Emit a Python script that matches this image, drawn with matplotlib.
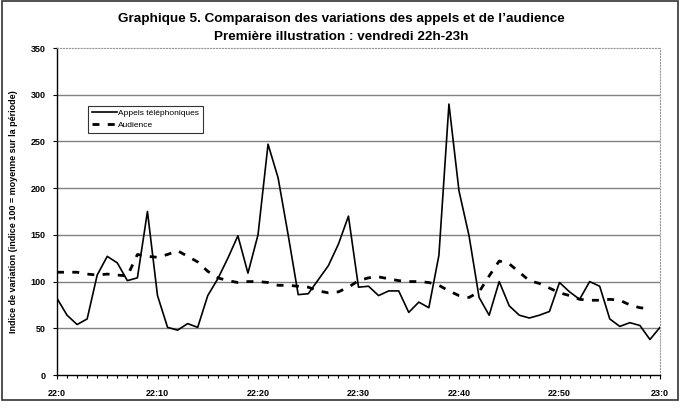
import matplotlib
matplotlib.use("Agg")
import matplotlib.pyplot as plt
import numpy as np
from matplotlib.patches import Rectangle

plt.rcParams['font.family'] = ['Liberation Sans', 'DejaVu Sans']

# minutes after 22:00
minutes = list(range(61))

appels = [82, 64, 54, 60, 107, 127, 120, 101, 104, 175,
          85, 51, 48, 55, 51, 85, 103, 125, 149, 109,
          150, 247, 211, 150, 86, 87, 102, 117, 140, 170,
          94, 95, 85, 90, 90, 67, 78, 72, 128, 290,
          197, 149, 83, 64, 100, 74, 64, 61, 64, 68,
          99, 89, 81, 100, 95, 60, 52, 56, 53, 38, 51]

audience = [110, 110, 110, 108, 107, 108, 107, 106, 129, 127,
            126, 129, 133, 127, 121, 111, 104, 101, 99, 100,
            100, 99, 96, 96, 95, 94, 90, 88, 89, 94,
            101, 104, 105, 103, 101, 100, 100, 99, 96, 90,
            85, 83, 89, 106, 122, 119, 110, 101, 98, 93,
            88, 85, 81, 80, 80, 81, 80, 75, 72, 71, np.nan]

tick_pos = [0, 10, 20, 30, 40, 50, 60]
tick_labels = ['22:0', '22:10', '22:20', '22:30', '22:40', '22:50', '23:0']

fig = plt.figure(figsize=(6.83, 4.11), dpi=100)
ax = fig.add_axes([57/683, 36/411, 603/683, 327/411])

for yv in range(50, 301, 50):
    ax.axhline(yv, color='#808080', lw=1.0, zorder=1)

ax.plot(minutes, appels, color='black', lw=1.2, label='Appels téléphoniques', zorder=3)
ax.plot(minutes, audience, color='black', lw=2.0, ls=(0, (2.5, 3)),
        label='Audience', zorder=3)

ax.set_xlim(0, 60)
ax.set_ylim(0, 350)
ax.set_yticks(range(0, 351, 50))
ax.set_xticks(tick_pos)
ax.set_xticklabels(tick_labels)
ax.set_xticks(minutes, minor=True)
ax.tick_params(axis='both', labelsize=6.5, length=3, width=0.8, pad=5)
ax.tick_params(axis='x', which='minor', length=2.5, width=0.8)
ax.tick_params(axis='x', which='major', length=3, pad=7)
for lab in ax.get_xticklabels() + ax.get_yticklabels():
    lab.set_fontweight('bold')

ax.spines['left'].set_linewidth(1.0)
ax.spines['bottom'].set_linewidth(1.0)
for s in ['top', 'right']:
    ax.spines[s].set_color('#999999')
    ax.spines[s].set_linestyle(':')
    ax.spines[s].set_linewidth(0.8)

ax.set_ylabel('Indice de variation (indice 100 = moyenne sur la période)',
              fontsize=6.5, fontweight='bold', labelpad=9)

leg = ax.legend(loc='upper left', bbox_to_anchor=(0.045, 0.835), fontsize=6,
                frameon=True, fancybox=False, edgecolor='black',
                handlelength=3.0, borderpad=0.4, labelspacing=0.5,
                handletextpad=0.2)
leg.get_frame().set_linewidth(0.8)

fig.text(0.5, 1 - 19/411, 'Graphique 5. Comparaison des variations des appels et de l\u2019audience',
         ha='center', va='center', fontsize=9.7, fontweight='bold')
fig.text(0.5, 1 - 37/411, 'Première illustration : vendredi 22h-23h',
         ha='center', va='center', fontsize=9.7, fontweight='bold')

# outer frame
fig.patches.append(Rectangle((2/683, 11/411), 676/683, 399/411, transform=fig.transFigure,
                             fill=False, edgecolor='#333333', lw=1.2))

fig.savefig('out.png', dpi=100)
